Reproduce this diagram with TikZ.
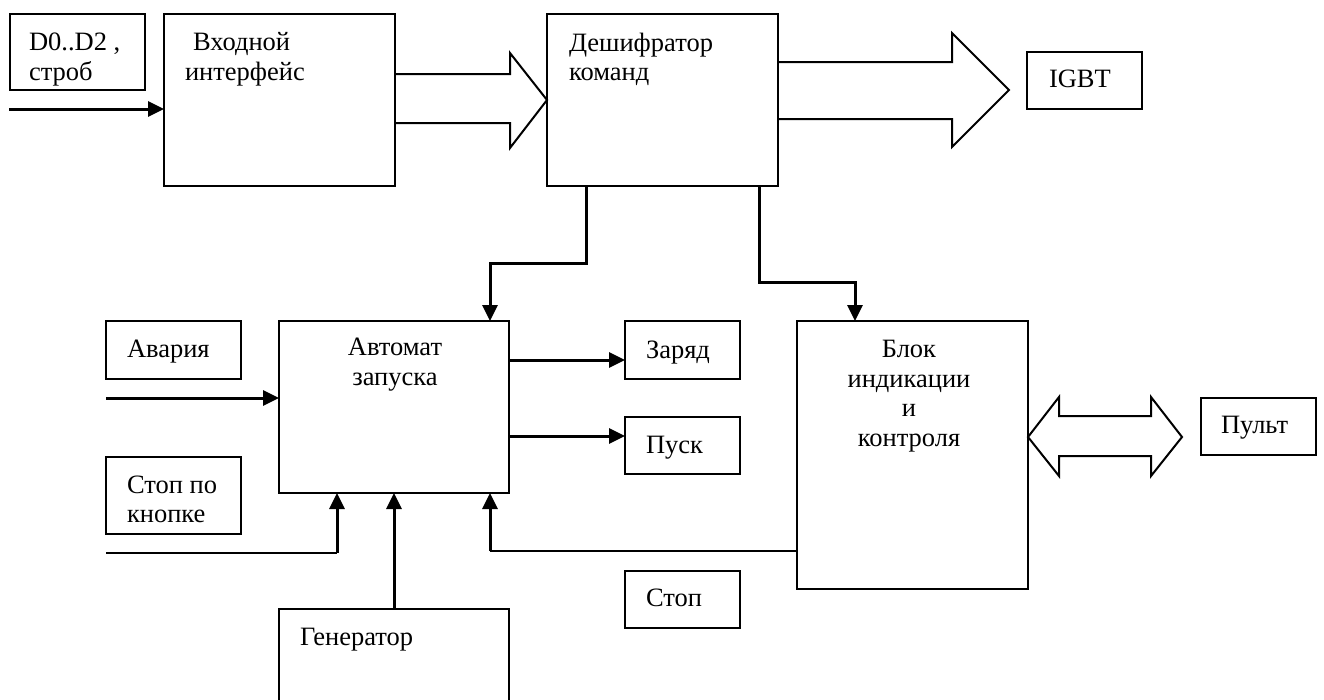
\documentclass[tikz,border=0pt]{standalone}
\usepackage{fontspec}
\setmainfont{Liberation Serif}
\usetikzlibrary{arrows.meta}
\begin{document}
\begin{tikzpicture}[x=1pt,y=-1pt,
  every node/.style={font=\fontsize{26.5}{30}\selectfont, inner sep=0pt, outer sep=0pt},
  blockbox/.style={draw, line width=2.4pt, anchor=north west},
  txt/.style={anchor=base west},
  ctxt/.style={anchor=base},
  arr/.style={line width=3pt, -{Triangle[length=16pt,width=15pt]}},
  plain/.style={line width=2.4pt},
  fat/.style={line width=2pt, line join=miter}]
\useasboundingbox (0,0) rectangle (1324,699);

% boxes
\node[blockbox, minimum width=135pt, minimum height=76pt] (d0) at (10,14) {};
\node[blockbox, minimum width=231pt, minimum height=172pt] (vin) at (164,14) {};
\node[blockbox, minimum width=231pt, minimum height=172pt] (dec) at (547,14) {};
\node[blockbox, minimum width=115pt, minimum height=57pt] (igbt) at (1027,52) {};
\node[blockbox, minimum width=230pt, minimum height=172pt] (avt) at (279,321) {};
\node[blockbox, minimum width=135pt, minimum height=58pt] (avar) at (106,321) {};
\node[blockbox, minimum width=135pt, minimum height=77pt] (stopk) at (106,457) {};
\node[blockbox, minimum width=230pt, minimum height=100pt] (gen) at (279,609) {};
\node[blockbox, minimum width=115pt, minimum height=58pt] (zar) at (625,321) {};
\node[blockbox, minimum width=115pt, minimum height=57pt] (pusk) at (625,417) {};
\node[blockbox, minimum width=115pt, minimum height=57pt] (stop) at (625,571) {};
\node[blockbox, minimum width=231pt, minimum height=268pt] (blk) at (797,321) {};
\node[blockbox, minimum width=115pt, minimum height=57pt] (pult) at (1201,398) {};

% texts
\node[txt] (t1) at (29,50) {D0..D2 ,};
\node[txt] (t2) at (29,80) {строб};
\node[txt] (t3) at (193,50) {Входной};
\node[txt] (t4) at (185,80) {интерфейс};
\node[txt] (t5) at (569,51) {Дешифратор};
\node[txt] (t6) at (569,80) {команд};
\node[txt] (t7) at (1049,87) {IGBT};
\node[ctxt] (t8) at (395,355) {Автомат};
\node[ctxt] (t9) at (395,385) {запуска};
\node[txt] (t10) at (127,357) {Авария};
\node[txt] (t11) at (127,493) {Стоп по};
\node[txt] (t12) at (127,522) {кнопке};
\node[txt] (t13) at (300,645) {Генератор};
\node[txt] (t14) at (646,358) {Заряд};
\node[txt] (t15) at (646,453) {Пуск};
\node[txt] (t16) at (646,606) {Стоп};
\node[ctxt] (t17) at (909,357) {Блок};
\node[ctxt] (t18) at (909,387) {индикации};
\node[ctxt] (t19) at (909,416) {и};
\node[ctxt] (t20) at (909,446) {контроля};
\node[txt] (t21) at (1221,433) {Пульт};

% free ends
\coordinate (in0) at (9,109);
\coordinate (in1) at (106,398);
\coordinate (in2) at (106,553);

% connectors
\draw[arr] (in0) -- (in0 -| vin.west);
\draw[fat] (vin.east |- 0,74) -- (510,74) -- (510,53) -- (dec.west |- 0,100)
  -- (510,148) -- (510,123) -- (vin.east |- 0,123);
\draw[fat] (dec.east |- 0,62) -- (952,62) -- (952,33) -- (1009,90)
  -- (952,147) -- (952,119) -- (dec.east |- 0,119);
\draw[arr] (586,0 |- dec.south) -- (586,263) -- (490,263) -- (490,0 |- avt.north);
\draw[arr] (759,0 |- dec.south) -- (759,282) -- (855,282) -- (855,0 |- blk.north);
\draw[arr] (in1) -- (in1 -| avt.west);
\draw[arr] (avt.east |- 0,360) -- (zar.west |- 0,360);
\draw[arr] (avt.east |- 0,436) -- (pusk.west |- 0,436);
\draw[plain] (in2) -- (337,553);
\draw[arr] (337,553) -- (337,0 |- avt.south);
\draw[arr] (gen.north) -- (avt.south);
\draw[plain] (blk.west |- 0,551) -- (490,551);
\draw[arr] (490,551) -- (490,0 |- avt.south);
\draw[fat] (blk.east |- 0,437) -- (1059,397) -- (1059,416) -- (1151,416) -- (1151,397)
  -- (1182,437) -- (1151,476) -- (1151,456) -- (1059,456) -- (1059,476) -- cycle;
\end{tikzpicture}
\end{document}
